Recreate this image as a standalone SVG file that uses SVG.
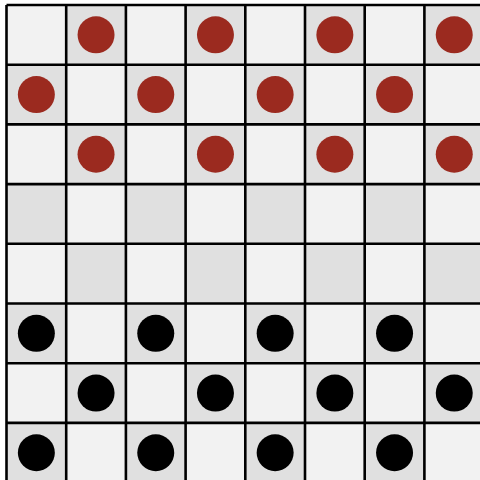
<svg xmlns="http://www.w3.org/2000/svg" width="480" height="480" viewBox="0 0 480 480">
<style>
.light{fill:#f2f2f2}
.dark{fill:#e0e0e0}
.grid{fill:none;stroke:#000;stroke-width:2.6}
.red{fill:#9b2a1f}
.black{fill:#000}
</style>
<defs>
<rect id="d" class="dark" width="59.7" height="59.7"/>
</defs>
<rect width="480" height="480" fill="#fff"/>
<g id="board" transform="translate(6.5,5)">
<rect class="light" width="477.6" height="477.6"/>
<!-- dark squares where row+col is odd -->
<use href="#d" x="59.7" y="0"/><use href="#d" x="179.1" y="0"/><use href="#d" x="298.5" y="0"/><use href="#d" x="417.9" y="0"/>
<use href="#d" x="0" y="59.7"/><use href="#d" x="119.4" y="59.7"/><use href="#d" x="238.8" y="59.7"/><use href="#d" x="358.2" y="59.7"/>
<use href="#d" x="59.7" y="119.4"/><use href="#d" x="179.1" y="119.4"/><use href="#d" x="298.5" y="119.4"/><use href="#d" x="417.9" y="119.4"/>
<use href="#d" x="0" y="179.1"/><use href="#d" x="119.4" y="179.1"/><use href="#d" x="238.8" y="179.1"/><use href="#d" x="358.2" y="179.1"/>
<use href="#d" x="59.7" y="238.8"/><use href="#d" x="179.1" y="238.8"/><use href="#d" x="298.5" y="238.8"/><use href="#d" x="417.9" y="238.8"/>
<use href="#d" x="0" y="298.5"/><use href="#d" x="119.4" y="298.5"/><use href="#d" x="238.8" y="298.5"/><use href="#d" x="358.2" y="298.5"/>
<use href="#d" x="59.7" y="358.2"/><use href="#d" x="179.1" y="358.2"/><use href="#d" x="298.5" y="358.2"/><use href="#d" x="417.9" y="358.2"/>
<use href="#d" x="0" y="417.9"/><use href="#d" x="119.4" y="417.9"/><use href="#d" x="238.8" y="417.9"/><use href="#d" x="358.2" y="417.9"/>
<path class="grid" d="M0 0V477.6M59.7 0V477.6M119.4 0V477.6M179.1 0V477.6M238.8 0V477.6M298.5 0V477.6M358.2 0V477.6M417.9 0V477.6M0 0H477.6M0 59.7H477.6M0 119.4H477.6M0 179.1H477.6M0 238.8H477.6M0 298.5H477.6M0 358.2H477.6M0 417.9H477.6"/>
</g>
<g id="pieces" transform="translate(6.5,5)">
<g id="red-pieces">
<circle class="red" cx="89.55" cy="29.85" r="18.5"/><circle class="red" cx="208.95" cy="29.85" r="18.5"/><circle class="red" cx="328.35" cy="29.85" r="18.5"/><circle class="red" cx="447.75" cy="29.85" r="18.5"/>
<circle class="red" cx="29.85" cy="89.55" r="18.5"/><circle class="red" cx="149.25" cy="89.55" r="18.5"/><circle class="red" cx="268.65" cy="89.55" r="18.5"/><circle class="red" cx="388.05" cy="89.55" r="18.5"/>
<circle class="red" cx="89.55" cy="149.25" r="18.5"/><circle class="red" cx="208.95" cy="149.25" r="18.5"/><circle class="red" cx="328.35" cy="149.25" r="18.5"/><circle class="red" cx="447.75" cy="149.25" r="18.5"/>
</g>
<g id="black-pieces">
<circle class="black" cx="29.85" cy="328.35" r="18.5"/><circle class="black" cx="149.25" cy="328.35" r="18.5"/><circle class="black" cx="268.65" cy="328.35" r="18.5"/><circle class="black" cx="388.05" cy="328.35" r="18.5"/>
<circle class="black" cx="89.55" cy="388.05" r="18.5"/><circle class="black" cx="208.95" cy="388.05" r="18.5"/><circle class="black" cx="328.35" cy="388.05" r="18.5"/><circle class="black" cx="447.75" cy="388.05" r="18.5"/>
<circle class="black" cx="29.85" cy="447.75" r="18.5"/><circle class="black" cx="149.25" cy="447.75" r="18.5"/><circle class="black" cx="268.65" cy="447.75" r="18.5"/><circle class="black" cx="388.05" cy="447.75" r="18.5"/>
</g>
</g>
</svg>
